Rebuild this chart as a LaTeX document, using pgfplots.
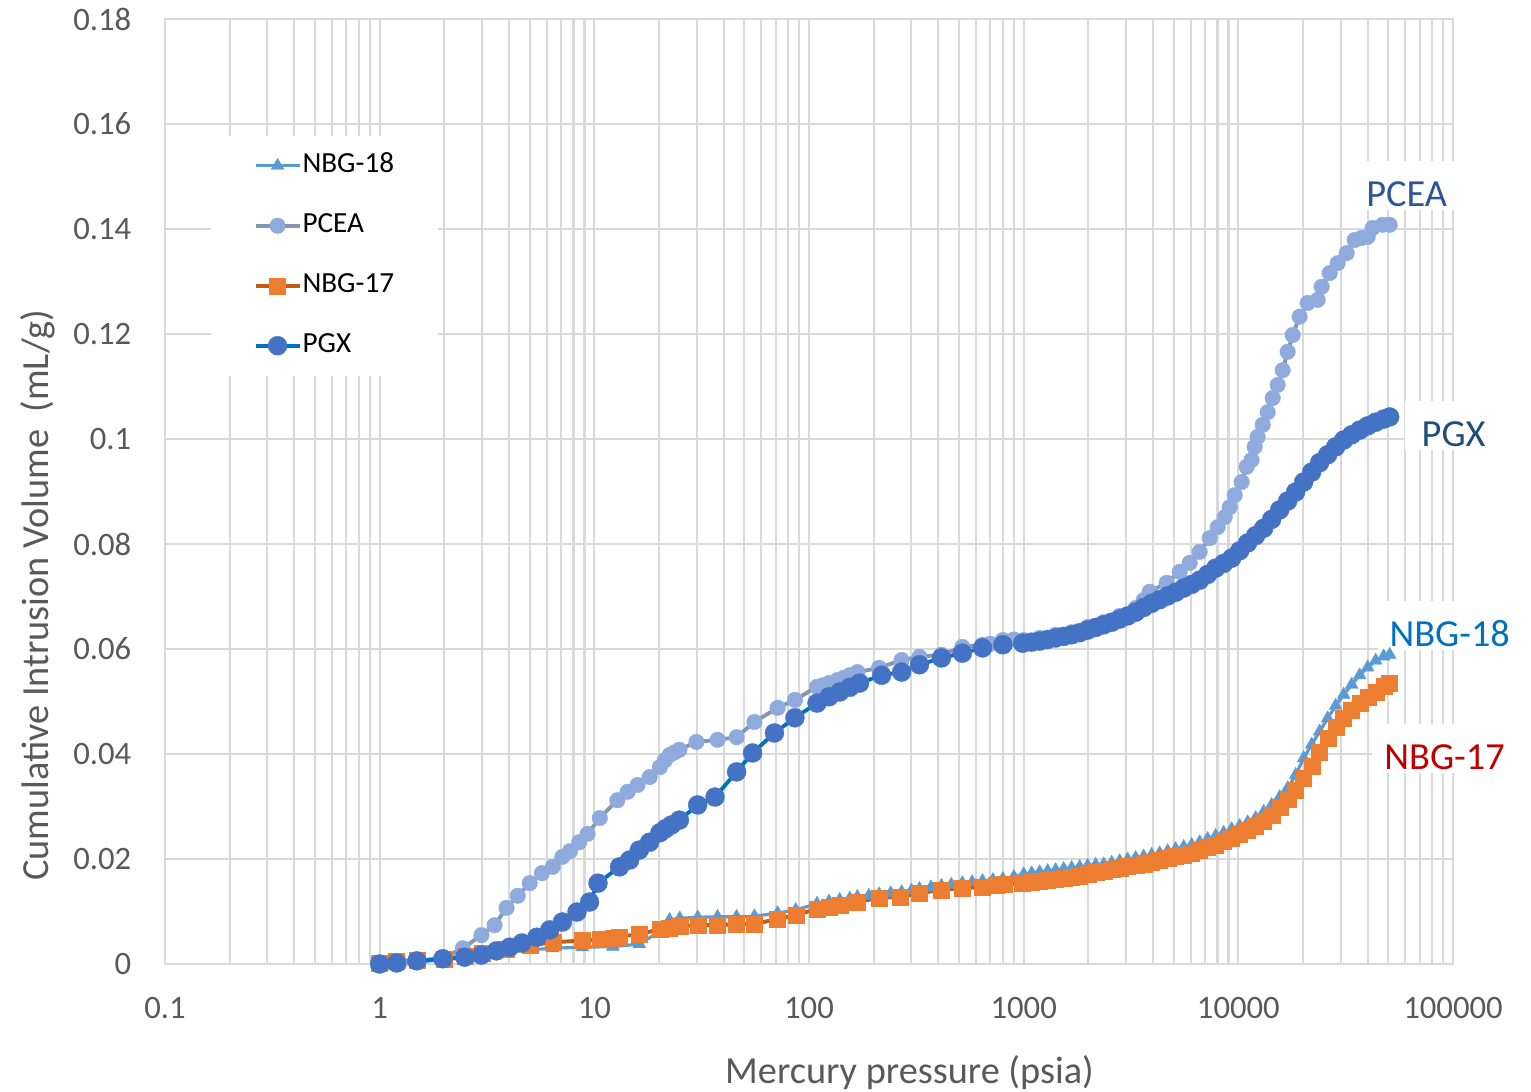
\documentclass[border=0pt]{standalone}
\usepackage{fontspec}
\setmainfont{Carlito}
\usepackage{pgfplots}
\pgfplotsset{compat=1.18}
\definecolor{gridc}{HTML}{D9D9D9}
\definecolor{txt}{HTML}{595959}
\definecolor{nbgeightm}{HTML}{5B9BD5}
\definecolor{pceam}{HTML}{8FAADC}
\definecolor{pceal}{HTML}{8497B0}
\definecolor{nbgsevm}{HTML}{ED7D31}
\definecolor{nbgsevl}{HTML}{C55A11}
\definecolor{pgxm}{HTML}{4472C4}
\definecolor{pgxl}{HTML}{0070C0}
\definecolor{lblpcea}{HTML}{2F5597}
\definecolor{lblpgx}{HTML}{1F4E79}
\definecolor{lblnbgeight}{HTML}{0070C0}
\definecolor{lblnbgsev}{HTML}{C00000}
\begin{document}
\begin{tikzpicture}
\tikzset{lbl/.style={fill=white, anchor=base, inner xsep=1.2mm, inner ysep=0pt, text height=4.6mm, text depth=0.3mm, font=\fontsize{10.9}{13}\selectfont}}
\begin{axis}[
  scale only axis, width=128.8mm, height=94.5mm,
  xmode=log, xmin=0.1, xmax=100000, ymin=0, ymax=0.18,
  xtick={0.1,1,10,100,1000,10000,100000},
  xticklabels={0.1,1,10,100,1000,10000,100000},
  minor xtick={0.2,0.3,0.4,0.5,0.6,0.7,0.8,0.9,2,3,4,5,6,7,8,9,20,30,40,50,60,70,80,90,200,300,400,500,600,700,800,900,2000,3000,4000,5000,6000,7000,8000,9000,20000,30000,40000,50000,60000,70000,80000,90000},
  ytick={0,0.02,0.04,0.06,0.08,0.1,0.12,0.14,0.16,0.18},
  yticklabels={0,0.02,0.04,0.06,0.08,0.1,0.12,0.14,0.16,0.18},
  xmajorgrids, xminorgrids, ymajorgrids,
  major grid style={gridc, line width=0.6pt},
  minor grid style={gridc, line width=0.6pt},
  axis line style={gridc, line width=0.6pt},
  major tick length=0pt, minor tick length=0pt,
  tick label style={font=\fontsize{9.3}{11}\selectfont, text=txt, inner sep=0pt},
  yticklabel style={anchor=east, xshift=-3.3mm},
  xticklabel style={anchor=north, yshift=-3.3mm},
  label style={font=\fontsize{10.9}{13}\selectfont, text=txt},
  xlabel={Mercury pressure (psia)},
  xlabel style={at={(0.578,0)}, anchor=base, yshift=-11.9mm},
  ylabel={Cumulative Intrusion Volume\ \ (mL/g)},
  ylabel style={at={(-0.0908,0.39)}, anchor=base},
  clip=false,
  legend image code/.code={\draw[mark repeat=2,mark phase=2] plot coordinates {(0mm,0mm) (2.2mm,0mm) (4.4mm,0mm)};},
  legend cell align=left,
  legend style={at={(0.0349,0.8772)}, anchor=north west, draw=none, fill=white,
    inner xsep=4.3mm, inner ysep=1.6mm, row sep=3.2mm,
    font=\fontsize{8.3}{10}\selectfont,
    nodes={inner xsep=0.1mm, inner ysep=0pt, text height=2.1mm, text depth=0.7mm}},
]
\addplot[color=nbgeightm, line width=0.9pt, mark=triangle*, mark size=0.75mm, mark options={fill=nbgeightm, draw=nbgeightm, line width=0.1pt}] coordinates {
(1,0) (1.2,0.0002) (1.5,0.0004) (2,0.0008) (2.5,0.0012) (3,0.0016) (3.9,0.0022) (5,0.0027) (6.4,0.003) (8.8,0.0032) (12.2,0.0033) (16.2,0.0038) (20.2,0.0062) (22.4,0.0084) (25,0.0087) (30.3,0.0089) (37.5,0.009) (46,0.009) (55.7,0.0091) (71.4,0.0097) (86.7,0.0103) (109,0.0115) (124,0.0119) (139,0.0122) (155,0.0125) (168,0.0128) (190,0.013) (212,0.0133) (240,0.0135) (270,0.0137) (300,0.014) (327,0.0143) (370,0.0146) (414,0.0149) (460,0.0151) (518,0.0154) (575,0.0156) (643,0.0158) (720,0.016) (800,0.0162) (900,0.0166) (1000,0.0171) (1089,0.0173) (1187,0.0175) (1293,0.0177) (1409,0.0179) (1536,0.0181) (1673,0.0183) (1823,0.0185) (1987,0.0187) (2165,0.0189) (2359,0.019) (2570,0.0193) (2801,0.0196) (3051,0.0199) (3325,0.0202) (3623,0.0205) (3947,0.0208) (4300,0.0211) (4686,0.0215) (5105,0.0219) (5563,0.0223) (6061,0.0227) (6603,0.0232) (7195,0.0238) (7840,0.0244) (8541,0.025) (9309,0.0257) (10140,0.0263) (11050,0.027) (12040,0.0278) (13120,0.029) (14300,0.0303) (15580,0.0318) (16980,0.0335) (18490,0.036) (20150,0.0392) (21960,0.0418) (23920,0.0443) (26070,0.0468) (28410,0.0492) (30950,0.0513) (33720,0.0532) (36750,0.055) (40040,0.0565) (43630,0.0578) (47540,0.0586) (50690,0.0589)
};
\addlegendentry{NBG-18}
\addplot[color=pceal, line width=1.1pt, mark=*, mark size=0.78mm, mark options={fill=pceam, draw=pceam, line width=0.1pt}] coordinates {
(1,0) (1.24,0.0002) (1.5,0.0004) (1.97,0.0011) (2.44,0.003) (2.98,0.0055) (3.43,0.0074) (3.9,0.0107) (4.4,0.013) (5,0.0154) (5.7,0.0173) (6.4,0.0185) (7.1,0.0204) (7.7,0.0215) (8.5,0.0232) (9.3,0.0248) (10.6,0.0278) (12.8,0.0312) (14.3,0.0328) (15.9,0.0341) (18.1,0.0356) (20.2,0.0375) (21.3,0.0388) (22.4,0.0398) (23.6,0.0403) (24.9,0.0408) (29.9,0.0423) (37.5,0.0427) (46,0.0432) (55.7,0.0461) (71.4,0.0488) (86,0.0503) (109,0.0528) (116,0.0531) (124,0.0535) (136,0.0541) (145,0.0545) (155,0.055) (168,0.0556) (212,0.0564) (270,0.0579) (327,0.0585) (414,0.0589) (518,0.0604) (643,0.0608) (700,0.061) (800,0.0617) (900,0.0618) (1000,0.0617) (1187,0.0621) (1409,0.0627) (1673,0.0632) (1987,0.0642) (2359,0.0651) (2801,0.0663) (3325,0.0678) (3623,0.0693) (3864,0.0709) (4636,0.0726) (5330,0.0747) (5933,0.0764) (6603,0.0785) (7352,0.0811) (8010,0.0832) (8636,0.0851) (9112,0.087) (9614,0.0893) (10360,0.0918) (10930,0.0947) (11530,0.096) (11910,0.0985) (12300,0.1004) (12980,0.1027) (13700,0.1051) (14450,0.1078) (15250,0.1103) (16090,0.1131) (16970,0.1166) (17910,0.1198) (19300,0.1233) (21030,0.1259) (23420,0.1265) (24440,0.129) (26640,0.1316) (29020,0.1335) (31960,0.1354) (34830,0.1379) (37540,0.1383) (40040,0.1385) (42250,0.1402) (47030,0.1408) (50690,0.1408)
};
\addlegendentry{PCEA}
\addplot[color=nbgsevl, line width=1.1pt, mark=square*, mark size=0.8mm, mark options={fill=nbgsevm, draw=nbgsevm, line width=0.1pt}] coordinates {
(1,0.0002) (1.2,0.0005) (1.5,0.0007) (2,0.001) (2.5,0.0015) (3,0.002) (3.9,0.0028) (5,0.0036) (6.4,0.0041) (8.8,0.0045) (10.6,0.0047) (12.2,0.005) (13.1,0.0052) (16.2,0.0057) (20.2,0.0066) (22.4,0.0069) (25,0.0072) (30.3,0.0074) (37.5,0.0074) (46,0.0076) (55.7,0.0076) (71.4,0.0086) (86.7,0.0093) (109,0.0105) (124,0.0109) (139,0.0112) (168,0.0118) (212,0.0126) (265,0.0128) (327,0.0135) (414,0.0141) (515,0.0145) (643,0.0146) (745,0.015) (815,0.0152) (980,0.0154) (1089,0.0156) (1187,0.0158) (1293,0.016) (1409,0.0162) (1536,0.0164) (1673,0.0166) (1823,0.0168) (1987,0.0171) (2165,0.0174) (2359,0.0177) (2570,0.018) (2801,0.0183) (3051,0.0186) (3325,0.0189) (3623,0.0191) (3947,0.0194) (4300,0.0198) (4686,0.0202) (5105,0.0205) (5563,0.0208) (6061,0.0212) (6603,0.0217) (7195,0.0222) (7840,0.0227) (8541,0.0233) (9309,0.024) (10140,0.0247) (11050,0.0255) (12040,0.0263) (13120,0.0272) (14300,0.0284) (15580,0.0299) (16980,0.0314) (18490,0.0331) (20150,0.0354) (21960,0.0377) (23920,0.0404) (26070,0.043) (28410,0.0451) (30950,0.0469) (33720,0.0484) (36750,0.0497) (40040,0.0509) (43630,0.0518) (47540,0.053) (50690,0.0535)
};
\addlegendentry{NBG-17}
\addplot[color=pgxl, line width=1.1pt, mark=*, mark size=0.95mm, mark options={fill=pgxm, draw=pgxm, line width=0.1pt}] coordinates {
(1,0) (1.2,0.0002) (1.49,0.0006) (1.97,0.001) (2.49,0.0013) (2.98,0.0017) (3.5,0.0025) (4.03,0.0032) (4.6,0.004) (5.4,0.0051) (6.2,0.0065) (7.1,0.008) (8.3,0.0099) (9.5,0.0118) (10.4,0.0154) (13.1,0.0185) (14.6,0.0198) (16.2,0.0217) (18.1,0.0232) (20.2,0.025) (21.5,0.0258) (22.9,0.0265) (24.9,0.0274) (30.3,0.0303) (36.5,0.0318) (46,0.0366) (54.6,0.0402) (69,0.044) (86,0.0469) (109,0.0497) (124,0.0509) (139,0.0518) (155,0.0527) (172,0.0535) (218,0.055) (270,0.0556) (327,0.057) (414,0.0583) (518,0.0592) (643,0.0602) (800,0.0608) (990,0.0611) (1089,0.0613) (1187,0.0615) (1293,0.0618) (1409,0.0621) (1536,0.0624) (1673,0.0627) (1823,0.0631) (1987,0.0636) (2165,0.0641) (2359,0.0646) (2570,0.0651) (2801,0.0657) (3051,0.0663) (3325,0.067) (3623,0.0679) (3947,0.0687) (4300,0.0694) (4686,0.0701) (5105,0.0708) (5563,0.0716) (6061,0.0723) (6603,0.0731) (7195,0.0742) (7840,0.0754) (8541,0.0763) (9309,0.0773) (10140,0.0787) (11050,0.0802) (12040,0.0816) (13120,0.083) (14300,0.0847) (15580,0.0865) (16980,0.0882) (18490,0.0899) (20150,0.0918) (21960,0.0937) (23920,0.0955) (26070,0.097) (28410,0.0985) (30950,0.0998) (33720,0.1008) (36750,0.1017) (40040,0.1025) (43630,0.1032) (47540,0.1038) (50690,0.1042)
};
\addlegendentry{PGX}
\node[lbl, text=lblpcea] at (axis cs:60800,0.1442) {PCEA};
\node[lbl, text=lblpgx, inner xsep=1.7mm] at (axis cs:100700,0.0985) {PGX};
\node[lbl, text=lblnbgeight] at (axis cs:96500,0.0604) {NBG-18};
\node[lbl, text=lblnbgsev] at (axis cs:91400,0.037) {NBG-17};
\end{axis}
\pgfresetboundingbox
\path[use as bounding box] (-16.5mm,-12.8mm) rectangle (136.6mm,96.4mm);
\end{tikzpicture}
\end{document}
